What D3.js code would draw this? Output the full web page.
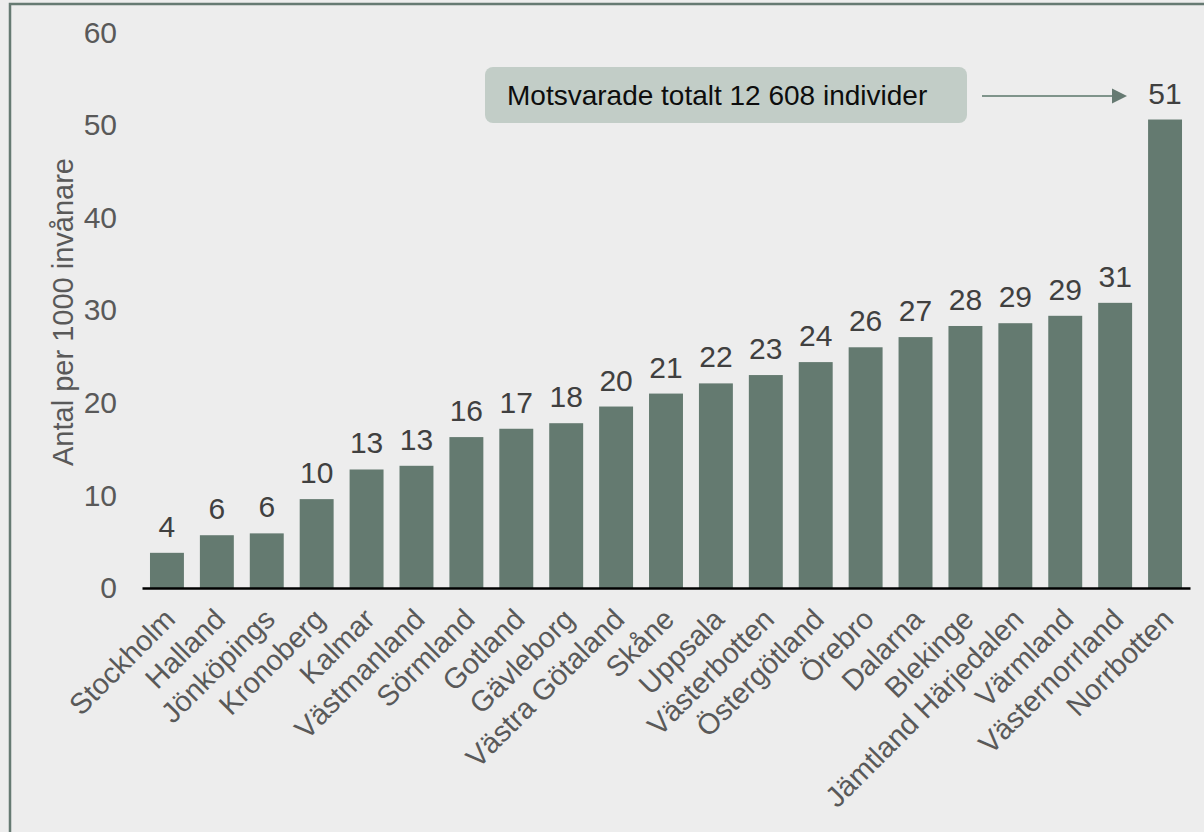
<!DOCTYPE html>
<html>
<head>
<meta charset="utf-8">
<script src="https://cdn.jsdelivr.net/npm/d3@7"></script>
<style>
  body { margin: 0; background: #ededed; }
  svg { display: block; font-family: "Liberation Sans", Arial, sans-serif; }
</style>
</head>
<body>
<svg width="1204" height="832"></svg>
<script>
const regions = ["Stockholm", "Halland", "Jönköpings", "Kronoberg", "Kalmar", "Västmanland",
  "Sörmland", "Gotland", "Gävleborg", "Västra Götaland", "Skåne", "Uppsala", "Västerbotten",
  "Östergötland", "Örebro", "Dalarna", "Blekinge", "Jämtland Härjedalen", "Värmland",
  "Västernorrland", "Norrbotten"]
const values = [3.8, 5.7, 5.9, 9.6, 12.8, 13.2, 16.3, 17.2, 17.8, 19.6, 21.0, 22.1, 23.0,
  24.4, 26.0, 27.1, 28.3, 28.6, 29.4, 30.8, 50.6]
const yTicks = [0, 10, 20, 30, 40, 50, 60]
const yTitle = "Antal per 1000 invånare"
const noteText = "Motsvarade totalt 12 608 individer"

const svg = d3.select('svg')
const width = +svg.attr('width')
const height = +svg.attr('height')
const fontSize = '30px'

const dataset = regions.map((r, i) => ({ region: r, value: values[i] }))

// background + frame (only top and left edges are visible)
svg.append('rect')
    .attr('width', width)
    .attr('height', height)
    .attr('fill', '#ededed')

svg.append('path')
    .attr('d', 'M10,' + (height + 5) + ' L10,4 L' + (width + 5) + ',4')
    .attr('fill', 'none')
    .attr('stroke', '#667a72')
    .attr('stroke-width', 2.5)

const xScale = d3.scaleBand()
    .domain(regions)
    .range([142, 1190])
    .paddingInner(0.32)
    .paddingOuter(0.16)

const yScale = d3.scaleLinear()
    .domain([0, 60])
    .range([588, 32.5])

// y tick labels, no axis line
const yAxis = d3.axisLeft(yScale)
    .tickValues(yTicks)
    .tickSize(0)
    .tickPadding(0)

const gy = svg.append('g')
    .attr('transform', 'translate(117, 0)')
    .call(yAxis)
gy.select('.domain').remove()
gy.selectAll('text')
    .attr('fill', '#595959')
    .style('font-size', fontSize)
    .style('font-family', '"Liberation Sans", Arial, sans-serif')

svg.append('text')
    .attr('transform', 'translate(73, 312) rotate(-90)')
    .attr('text-anchor', 'middle')
    .attr('fill', '#595959')
    .style('font-size', '29px')
    .text(yTitle)

// bars
svg.selectAll('rect.bar').data(dataset).enter()
    .append('rect')
    .attr('class', 'bar')
    .attr('x', d => xScale(d.region))
    .attr('y', d => yScale(d.value))
    .attr('width', xScale.bandwidth())
    .attr('height', d => yScale(0) - yScale(d.value))
    .attr('fill', '#647a70')

// value labels
svg.selectAll('text.val').data(dataset).enter()
    .append('text')
    .attr('class', 'val')
    .attr('x', d => xScale(d.region) + xScale.bandwidth() / 2)
    .attr('y', d => yScale(d.value) - 16)
    .attr('text-anchor', 'middle')
    .attr('fill', '#404040')
    .style('font-size', fontSize)
    .text(d => d3.format('.0f')(d.value))

// x axis line + rotated labels
const xAxis = d3.axisBottom(xScale).tickSize(0).tickPadding(0)
const gx = svg.append('g')
    .attr('transform', 'translate(0, 588)')
    .call(xAxis)
gx.select('.domain')
    .attr('stroke', '#000')
    .attr('stroke-width', 2.5)
gx.selectAll('text')
    .attr('text-anchor', 'end')
    .attr('fill', '#595959')
    .attr('y', 0)
    .attr('dy', 0)
    .attr('transform', 'translate(10, 33) rotate(-45)')
    .style('font-size', '29px')
    .style('font-family', '"Liberation Sans", Arial, sans-serif')

// annotation
svg.append('rect')
    .attr('x', 485)
    .attr('y', 67)
    .attr('width', 482)
    .attr('height', 56)
    .attr('rx', 8)
    .attr('fill', '#c2cdc7')

svg.append('text')
    .attr('x', 507)
    .attr('y', 105)
    .attr('fill', '#0d0d0d')
    .style('font-size', '28px')
    .text(noteText)

svg.append('line')
    .attr('x1', 982)
    .attr('x2', 1114)
    .attr('y1', 96)
    .attr('y2', 96)
    .attr('stroke', '#7f948b')
    .attr('stroke-width', 2)

svg.append('path')
    .attr('d', 'M1112,88.5 L1127,96 L1112,103.5 Z')
    .attr('fill', '#667a72')
</script>
</body>
</html>
